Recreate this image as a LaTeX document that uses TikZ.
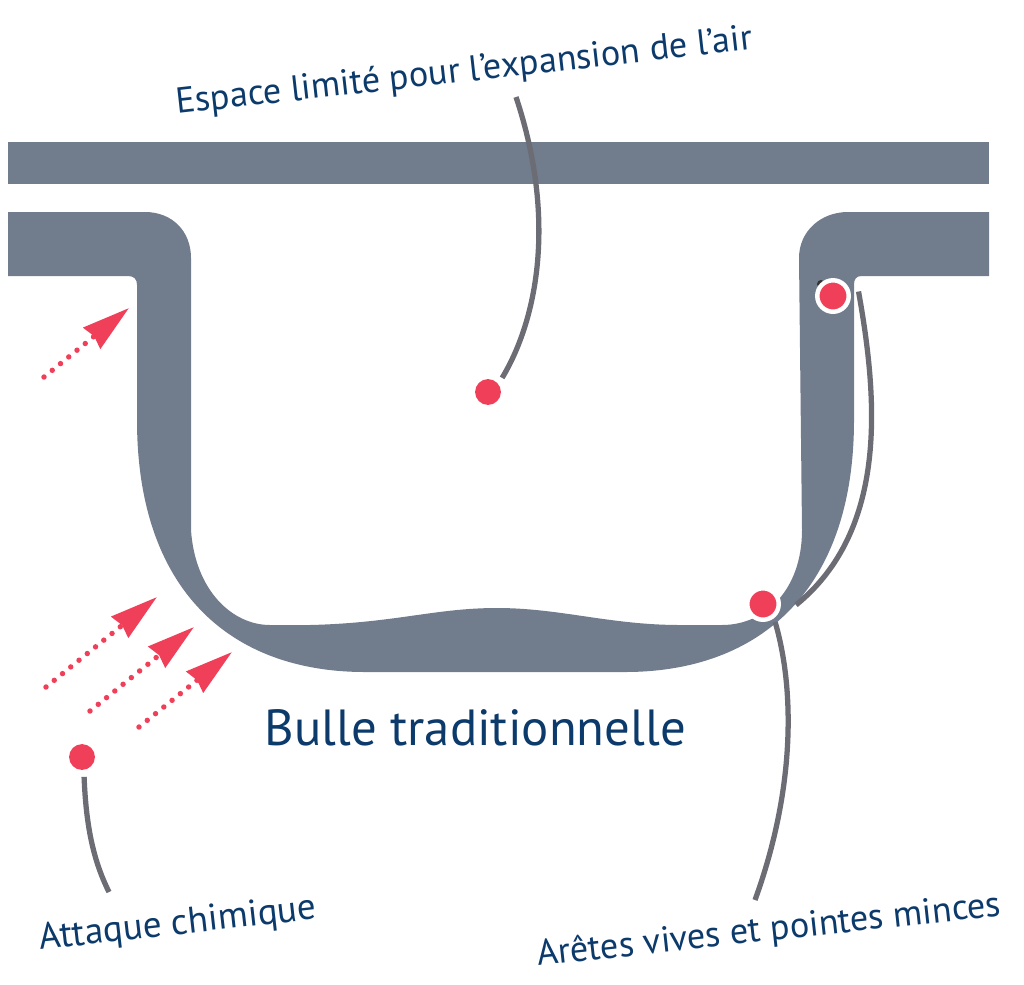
\documentclass[tikz,border=0pt]{standalone}
\usepackage{fontspec}
\setmainfont{PT Sans}
\usetikzlibrary{arrows.meta}
\definecolor{bubblegrey}{HTML}{717C8D}
\definecolor{spotred}{HTML}{F03F58}
\definecolor{leadgrey}{HTML}{6B6C74}
\definecolor{labelblue}{HTML}{0B3A6B}
\tikzset{
  spot/.style={circle, fill=spotred, minimum size=14.7pt, inner sep=0pt, outer sep=4pt},
  ringspot/.style={spot, draw=white, line width=2.55pt, minimum size=17.9pt, outer sep=3.4pt},
  lead/.style={draw=leadgrey, line width=3pt},
  attack/.style={draw=spotred, line width=3.1pt, line cap=round, dash pattern=on 0pt off 6.05pt,
    -{Stealth[length=27pt, width=15pt, inset=1.5pt]}},
  note/.style={text=labelblue, anchor=base west, inner sep=0pt, font=\fontsize{20.6}{24}\selectfont},
}
\begin{document}
\begin{tikzpicture}[x=0.02cm, y=-0.02cm]
\useasboundingbox (0,0) rectangle (1024,984);
\fill[bubblegrey] (8,142) rectangle (989,184);
\fill[bubblegrey] (8,212) -- (145,212) .. controls (172,212) and (191,231) .. (191,258)
  -- (191,530) .. controls (195,590) and (232,625) .. (270,625)
  -- (310,625) .. controls (395,623) and (435,608) .. (497,608)
  .. controls (560,608) and (610,625) .. (680,625) -- (722,625)
  .. controls (765,625) and (802,590) .. (802,530)
  -- (799,258) .. controls (799,231) and (821,212) .. (848,212)
  -- (989,212) -- (989,276) -- (862,276) .. controls (856,276) and (854,279) .. (854,285)
  -- (854,420) .. controls (854,590) and (760,672) .. (625,672)
  -- (365,672) .. controls (230,672) and (137,590) .. (137,420)
  -- (137,285) .. controls (137,279) and (134,276) .. (128,276)
  -- (8,276) -- cycle;
% spots
\fill[black!80] (821,284) circle (4);
\node[spot] (spotair) at (488,392) {};
\node[spot] (spotchem) at (82,757) {};
\node[ringspot] (spotedge) at (763,604) {};
\node[ringspot, outer sep=5.8pt] (spotthin) at (833,296) {};
% free ends of the leaders
\coordinate (endair) at (516,97);
\coordinate (endchem) at (109,892);
\coordinate (endedge) at (755,900);
\coordinate (endthin) at (796,605);
\draw[lead] (spotair.45) .. controls (537,320) and (557,220) .. (endair);
\draw[lead] (spotchem.-84) .. controls (86,825) and (93,860) .. (endchem);
\draw[lead] (spotedge.-56) .. controls (795,690) and (795,790) .. (endedge);
\draw[lead] (spotthin.10) .. controls (878,400) and (888,530) .. (endthin);
% attack arrows
\coordinate (starta) at (44,377);
\coordinate (tipa) at (129,308);
\coordinate (startb) at (46,687);
\coordinate (tipb) at (157,597);
\coordinate (startc) at (90,711);
\coordinate (tipc) at (194,627);
\coordinate (startd) at (139,727);
\coordinate (tipd) at (232,652);
\draw[attack] (starta) -- (tipa);
\draw[attack] (startb) -- (tipb);
\draw[attack] (startc) -- (tipc);
\draw[attack] (startd) -- (tipd);
% labels
\node[note, rotate=6.4] (labelair) at (177,114) {Espace limité pour l'expansion de l'air};
\node[note, rotate=6.4, font=\fontsize{21.1}{24}\selectfont] (labelchem) at (40,950) {Attaque chimique};
\node[note, rotate=6.2] (labeledge) at (538,966) {Arêtes vives et pointes minces};
\node[text=labelblue, anchor=base west, inner sep=0pt, font=\fontsize{28.9}{34}\selectfont] (title) at (264,745) {Bulle traditionnelle};
\end{tikzpicture}
\end{document}
